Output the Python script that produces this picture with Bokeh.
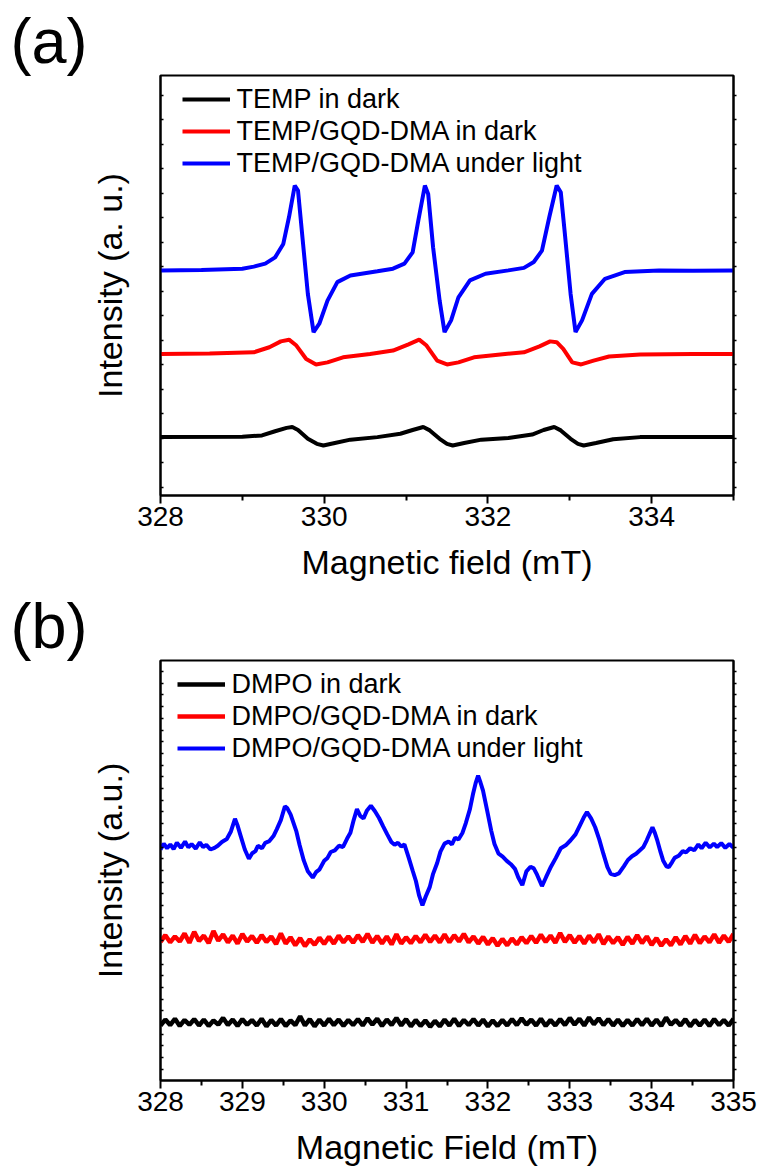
import numpy as np
from bokeh.plotting import figure
from bokeh.layouts import column
from bokeh.models import (Range1d, FixedTicker, LinearAxis, Legend, LegendItem, Title)
from bokeh.embed import file_html
from bokeh.resources import INLINE

FONT = "Liberation Sans"

# ---------------- Panel (a) data : TEMP ----------------
a_xticks = [328, 330, 332, 334]
a_xminor = [329, 331, 333, 335]
a_labels = ["TEMP in dark", "TEMP/GQD-DMA in dark", "TEMP/GQD-DMA under light"]

a_blue_x = [328.0, 328.5, 329.0, 329.14, 329.28, 329.40, 329.50, 329.57, 329.64, 329.68,
            329.73, 329.80, 329.87, 329.94, 330.04, 330.16, 330.32, 330.65, 330.84, 330.98,
            331.08, 331.15, 331.23, 331.27, 331.33, 331.41, 331.47, 331.55, 331.64, 331.78,
            331.97, 332.25, 332.44, 332.56, 332.66, 332.75, 332.84, 332.89, 332.94, 333.01,
            333.07, 333.15, 333.27, 333.43, 333.67, 334.09, 334.5, 335.0]
a_blue_y = [53.6, 53.7, 54.0, 54.5, 55.2, 56.7, 59.9, 66.3, 73.8, 72.6,
            62.3, 48.0, 38.9, 40.9, 46.4, 50.8, 52.4, 53.4, 54.0, 55.2,
            57.9, 65.5, 73.8, 71.8, 59.1, 46.4, 38.9, 41.7, 47.2, 51.2,
            52.8, 53.6, 54.2, 55.6, 58.3, 66.3, 73.8, 72.2, 62.3, 48.0,
            38.9, 41.7, 48.0, 51.6, 53.2, 53.6, 53.5, 53.6]

a_red_x = [328.0, 328.6, 329.14, 329.33, 329.47, 329.57, 329.66, 329.78, 329.90, 330.04,
           330.23, 330.56, 330.84, 331.03, 331.16, 331.25, 331.38, 331.50, 331.64, 331.83,
           332.21, 332.44, 332.63, 332.76, 332.84, 332.92, 333.03, 333.14, 333.29, 333.48,
           333.86, 334.5, 335.0]
a_red_y = [33.7, 33.8, 34.1, 35.3, 36.7, 37.1, 35.7, 32.5, 31.2, 31.7,
           32.9, 33.7, 34.5, 36.0, 37.1, 35.7, 32.1, 31.2, 31.7, 32.9,
           33.7, 34.1, 35.5, 36.7, 36.5, 34.9, 31.7, 31.2, 32.1, 33.1,
           33.6, 33.7, 33.7]

a_black_x = [328.0, 329.0, 329.24, 329.40, 329.54, 329.61, 329.68, 329.80, 329.91, 329.99,
             330.13, 330.32, 330.65, 330.93, 331.08, 331.21, 331.29, 331.41, 331.50, 331.57,
             331.71, 331.92, 332.25, 332.54, 332.68, 332.81, 332.89, 333.01, 333.10, 333.17,
             333.32, 333.53, 333.86, 335.0]
a_black_y = [13.9, 14.0, 14.3, 15.3, 16.1, 16.3, 15.6, 13.5, 12.3, 11.9,
             12.5, 13.3, 13.9, 14.7, 15.6, 16.3, 15.5, 13.5, 12.3, 11.9,
             12.5, 13.3, 13.7, 14.5, 15.6, 16.3, 15.5, 13.5, 12.3, 11.9,
             12.5, 13.4, 13.9, 13.9]

# ---------------- Panel (b) data : DMPO ----------------
b_xticks = [328, 329, 330, 331, 332, 333, 334, 335]
b_xminor = [328.5, 329.5, 330.5, 331.5, 332.5, 333.5, 334.5]
b_labels = ["DMPO in dark", "DMPO/GQD-DMA in dark", "DMPO/GQD-DMA under light"]

b_blue_pts = [
    (328.00, 55.0), (328.04, 56.4), (328.08, 55.3), (328.12, 56.2), (328.16, 55.1),
    (328.20, 56.6), (328.25, 55.4), (328.30, 56.9), (328.34, 55.5), (328.38, 56.3),
    (328.43, 55.2), (328.48, 56.7), (328.52, 55.6), (328.56, 56.1), (328.61, 55.0),
    (328.66, 55.4), (328.70, 55.9), (328.75, 56.8), (328.81, 57.5), (328.86, 59.3),
    (328.91, 62.3), (328.94, 60.8), (328.98, 58.2), (329.03, 55.0), (329.08, 52.8),
    (329.12, 54.1), (329.16, 54.6), (329.19, 55.9), (329.24, 55.3), (329.28, 56.6),
    (329.33, 57.0), (329.38, 58.2), (329.42, 59.8), (329.47, 62.0), (329.52, 65.3),
    (329.55, 64.8), (329.59, 63.3), (329.66, 59.3), (329.70, 56.0), (329.75, 52.4),
    (329.80, 49.8), (329.86, 48.3), (329.90, 49.6), (329.94, 50.2), (330.00, 52.3),
    (330.04, 53.0), (330.08, 54.4), (330.13, 54.8), (330.18, 55.9), (330.23, 55.6),
    (330.28, 57.6), (330.32, 59.0), (330.36, 62.0), (330.40, 64.6), (330.44, 63.0),
    (330.48, 62.4), (330.52, 64.2), (330.57, 65.4), (330.62, 64.1), (330.67, 62.5),
    (330.72, 60.5), (330.77, 58.6), (330.82, 56.8), (330.86, 56.1), (330.90, 56.6),
    (330.94, 55.7), (330.98, 56.2), (331.03, 53.2), (331.08, 50.0), (331.12, 47.5),
    (331.16, 44.0), (331.20, 41.7), (331.24, 43.8), (331.29, 46.1), (331.33, 49.2),
    (331.38, 51.8), (331.42, 54.5), (331.47, 56.4), (331.52, 56.9), (331.56, 56.2),
    (331.60, 57.8), (331.64, 57.4), (331.69, 59.0), (331.73, 61.3), (331.78, 64.6),
    (331.82, 68.4), (331.85, 70.8), (331.88, 72.6), (331.91, 70.9), (331.94, 69.0),
    (331.99, 64.3), (332.04, 59.5), (332.08, 56.3), (332.13, 54.0), (332.18, 53.3),
    (332.23, 52.3), (332.28, 51.5), (332.33, 50.4), (332.37, 48.4), (332.42, 46.5),
    (332.47, 49.8), (332.52, 50.9), (332.56, 50.5), (332.60, 49.0), (332.66, 46.3),
    (332.71, 48.4), (332.77, 50.9), (332.83, 53.0), (332.89, 55.3), (332.95, 56.0),
    (333.01, 57.2), (333.07, 58.6), (333.13, 61.0), (333.17, 62.6), (333.21, 63.9),
    (333.26, 62.4), (333.31, 60.3), (333.36, 57.4), (333.41, 54.0), (333.46, 50.8),
    (333.50, 49.2), (333.55, 48.9), (333.60, 49.3), (333.66, 51.0), (333.71, 52.5),
    (333.76, 53.4), (333.81, 54.0), (333.86, 54.9), (333.90, 55.6), (333.94, 57.2),
    (333.98, 59.0), (334.01, 60.3), (334.04, 58.9), (334.07, 57.1), (334.11, 54.3),
    (334.14, 52.4), (334.18, 51.0), (334.21, 50.8), (334.25, 52.0), (334.28, 53.0),
    (334.33, 53.5), (334.38, 54.6), (334.42, 54.3), (334.47, 55.3), (334.52, 54.8),
    (334.57, 56.2), (334.61, 55.3), (334.66, 56.6), (334.71, 55.5), (334.76, 56.4),
    (334.80, 55.6), (334.85, 56.5), (334.90, 55.4), (334.95, 56.3), (335.00, 55.4),
]

b_red_y = [33.0, 34.6, 32.9, 34.3, 33.1, 35.0, 32.8, 35.4, 33.2, 34.5, 32.7, 35.6, 33.3, 34.8, 32.9, 34.5, 32.6, 34.9, 33.1, 34.4,
           32.8, 34.6, 33.0, 34.3, 32.5, 35.0, 32.6, 34.1, 32.2, 33.9, 32.0, 33.6, 32.3, 34.0, 32.5, 34.2, 32.6, 34.5, 32.9, 34.3,
           32.8, 34.6, 33.0, 34.9, 32.8, 34.4, 32.6, 34.3, 32.4, 34.8, 32.6, 34.1, 32.7, 34.4, 32.9, 34.7, 33.0, 34.5, 32.9, 34.8,
           32.9, 34.6, 33.1, 34.9, 32.9, 34.3, 32.6, 34.2, 32.4, 33.9, 32.1, 33.7, 32.2, 33.8, 32.4, 34.1, 32.7, 34.4, 32.8, 34.7,
           33.0, 34.5, 32.8, 35.1, 33.0, 34.6, 32.8, 34.4, 32.6, 34.5, 32.9, 34.8, 32.5, 34.3, 32.7, 34.1, 32.3, 34.2, 32.6, 34.6,
           32.7, 34.3, 32.3, 33.9, 32.1, 33.6, 32.2, 34.1, 32.4, 34.4, 32.6, 34.7, 32.7, 34.3, 32.9, 34.8, 32.8, 34.5, 33.0, 34.9]

b_black_y = [13.1, 14.5, 13.2, 14.7, 13.0, 14.4, 13.3, 14.6, 13.1, 14.5, 13.0, 14.3, 13.3, 14.9, 13.2, 14.5, 13.0, 14.6, 13.3, 14.4,
             13.1, 14.7, 12.9, 14.4, 13.1, 14.6, 13.0, 14.3, 13.2, 15.3, 13.1, 14.6, 12.9, 14.5, 13.1, 14.7, 13.2, 14.5, 13.0, 14.4,
             13.2, 14.6, 13.1, 14.8, 13.3, 14.7, 13.0, 14.5, 13.2, 14.9, 13.1, 14.6, 12.9, 14.4, 13.0, 14.3, 12.8, 14.2, 12.9, 14.5,
             13.1, 14.7, 13.0, 14.4, 13.2, 14.6, 13.1, 14.5, 12.9, 14.3, 13.0, 14.4, 13.1, 14.6, 13.2, 14.8, 13.3, 14.5, 13.1, 14.7,
             13.0, 14.4, 13.1, 14.6, 13.2, 14.9, 13.3, 14.7, 13.1, 15.0, 13.4, 14.8, 13.2, 14.6, 13.1, 14.5, 13.0, 14.4, 13.1, 14.6,
             13.2, 14.7, 13.1, 14.5, 13.0, 15.0, 13.3, 14.4, 13.1, 14.6, 12.9, 14.4, 13.1, 14.5, 13.0, 14.6, 13.2, 14.4, 13.1, 14.7]

b_noise_x = np.linspace(328, 335, len(b_red_y))  # uniform field sweep grid

FRAME_H = 420.0


def style_panel(p, xticks, xminor, ytick_top_px, ytick_step_px, xlabel, ylabel, tag):
    n = int((FRAME_H - ytick_top_px) // ytick_step_px) + 1
    yt = [100 - (ytick_top_px + ytick_step_px * k) * 100 / FRAME_H for k in range(n)]
    yt = [v for v in yt if v > 0.5]

    p.outline_line_color = "black"
    p.outline_line_width = 2
    p.grid.visible = False
    p.background_fill_color = "white"
    p.border_fill_color = "white"

    t = Title(text=tag, align="left", offset=-150, standoff=0,
              text_font=FONT, text_font_size="63px", text_font_style="normal",
              text_color="black")
    p.add_layout(t, "above")

    xa = p.xaxis[0]
    xa.ticker = FixedTicker(ticks=xticks, minor_ticks=xminor)
    xa.axis_line_width = 2
    xa.major_tick_line_width = 2
    xa.minor_tick_line_width = 2
    xa.major_tick_out = 8
    xa.major_tick_in = 0
    xa.minor_tick_out = 5
    xa.minor_tick_in = 0
    xa.major_label_text_font = FONT
    xa.major_label_text_font_size = "28px"
    xa.major_label_text_color = "black"
    xa.major_label_standoff = 3
    xa.axis_label = xlabel
    xa.axis_label_text_font = FONT
    xa.axis_label_text_font_size = "34px"
    xa.axis_label_text_font_style = "normal"
    xa.axis_label_text_color = "black"
    xa.axis_label_standoff = 14

    ya = p.yaxis[0]
    ya.ticker = FixedTicker(ticks=yt, minor_ticks=[])
    ya.axis_line_width = 2
    ya.major_tick_line_width = 1.5
    ya.major_tick_in = 3
    ya.major_tick_out = 0
    ya.major_label_text_font_size = "0px"
    ya.major_label_standoff = 0
    ya.axis_label = ylabel
    ya.axis_label_text_font = FONT
    ya.axis_label_text_font_size = "34px"
    ya.axis_label_text_font_style = "normal"
    ya.axis_label_text_color = "black"
    ya.axis_label_standoff = 32

    ra = LinearAxis(ticker=FixedTicker(ticks=yt, minor_ticks=[]))
    ra.axis_line_width = 2
    ra.major_tick_line_width = 1.5
    ra.major_tick_in = 0
    ra.major_tick_out = 3
    ra.major_label_text_font_size = "0px"
    ra.major_label_standoff = 0
    p.add_layout(ra, "right")


def make_legend(p, renderers, labels, loc):
    leg = Legend(items=[LegendItem(label=l, renderers=[r]) for l, r in zip(labels, renderers)],
                 location=loc)
    leg.border_line_color = None
    leg.background_fill_alpha = 0
    leg.padding = 0
    leg.margin = 0
    leg.spacing = 0
    leg.glyph_width = 48
    leg.glyph_height = 32
    leg.label_height = 32
    leg.label_standoff = 7
    leg.label_text_font = FONT
    leg.label_text_font_size = "27px"
    leg.label_text_color = "black"
    p.add_layout(leg, "center")


# ---------------- Figure (a) ----------------
pa = figure(width=758, height=588, output_backend="svg", toolbar_location=None,
            x_range=Range1d(328, 335), y_range=Range1d(0, 100),
            min_border_left=160, min_border_right=25, min_border_top=75, min_border_bottom=93)
style_panel(pa, a_xticks, a_xminor, 19.5, 24.5, "Magnetic field (mT)", "Intensity (a. u.)", "(a)")
ra_k = pa.line(a_black_x, a_black_y, line_color="black", line_width=4)
ra_r = pa.line(a_red_x, a_red_y, line_color="#ff0000", line_width=4)
ra_b = pa.line(a_blue_x, a_blue_y, line_color="#0000ff", line_width=4)
make_legend(pa, [ra_k, ra_r, ra_b], a_labels, (21.5, 316))

# ---------------- Figure (b) ----------------
pb = figure(width=758, height=585, output_backend="svg", toolbar_location=None,
            x_range=Range1d(328, 335), y_range=Range1d(0, 100),
            min_border_left=160, min_border_right=25, min_border_top=72, min_border_bottom=93)
style_panel(pb, b_xticks, b_xminor, 11, 11.7, "Magnetic Field (mT)", "Intensity (a.u.)", "(b)")
b_blue_x = [pt[0] for pt in b_blue_pts]
b_blue_y = [pt[1] for pt in b_blue_pts]
rb_k = pb.line(b_noise_x, b_black_y, line_color="black", line_width=4.5)
rb_r = pb.line(b_noise_x, b_red_y, line_color="#ff0000", line_width=4.5)
rb_b = pb.line(b_blue_x, b_blue_y, line_color="#0000ff", line_width=4)
make_legend(pb, [rb_k, rb_r, rb_b], b_labels, (16.5, 316))

layout = column(pa, pb, spacing=0)
open("out.html", "w").write(file_html(layout, INLINE))
